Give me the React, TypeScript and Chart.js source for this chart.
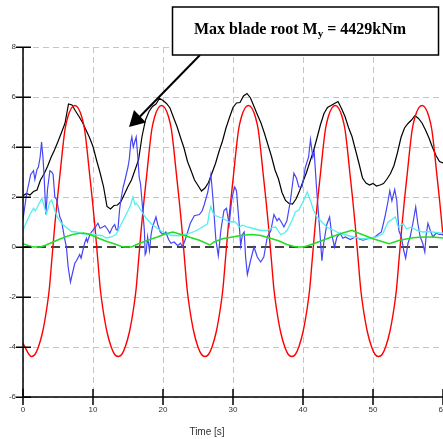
import React, { useEffect, useRef } from 'react';
import { Chart, registerables } from 'chart.js';

Chart.register(...registerables);

const xTicks = [0, 10, 20, 30, 40, 50, 60];
const yTicks = [-6, -4, -2, 0, 2, 4, 6, 8];
const titleMain = 'Max blade root M';
const titleSub = 'y';
const titleTail = ' = 4429kNm';
const xTitle = 'Time [s]';

// Red series (smooth oscillation)
const redT = [0, 1.2, 1.7, 2.2, 2.8, 3.4, 3.75, 4.15, 4.55, 4.9, 5.3, 5.65, 6.0, 6.4, 6.9, 7.4, 7.9, 8.4, 8.8, 9.15, 9.5, 9.9, 10.25, 10.65, 11.05, 11.4, 12.0, 12.6, 13.1, 13.6,
  14.1, 14.6, 15.2, 15.8, 16.15, 16.55, 16.95, 17.3, 17.7, 18.05, 18.4, 18.8, 19.3, 19.8, 20.3, 20.8, 21.2, 21.55, 21.9, 22.3, 22.65, 23.05, 23.45, 23.8, 24.4, 25.0, 25.5, 26.0,
  26.5, 27.0, 27.6, 28.2, 28.55, 28.95, 29.35, 29.7, 30.1, 30.45, 30.8, 31.2, 31.7, 32.2, 32.7, 33.2, 33.6, 33.95, 34.3, 34.7, 35.05, 35.45, 35.85, 36.2, 36.8, 37.4, 37.9, 38.4,
  38.9, 39.4, 40.0, 40.6, 40.95, 41.35, 41.75, 42.1, 42.5, 42.85, 43.2, 43.6, 44.1, 44.6, 45.1, 45.6, 46.0, 46.35, 46.7, 47.1, 47.45, 47.85, 48.25, 48.6, 49.2, 49.8, 50.3, 50.8,
  51.3, 51.8, 52.4, 53.0, 53.35, 53.75, 54.15, 54.5, 54.9, 55.25, 55.6, 56.0, 56.5, 57.0, 57.5, 58.0, 58.4, 58.75, 59.1, 59.5, 59.85, 60.0];
const redV = [-3.85, -4.38, -4.3, -4.0, -3.4, -2.45, -1.7, -0.4, 0.9, 1.9, 2.95, 3.9, 4.7, 5.2, 5.55, 5.66, 5.55, 5.2, 4.7, 3.9, 2.95, 1.9, 0.9, -0.4, -1.7, -2.45, -3.4, -4.0, -4.3, -4.38,
  -4.3, -4.0, -3.4, -2.45, -1.7, -0.4, 0.9, 1.9, 2.95, 3.9, 4.7, 5.2, 5.55, 5.66, 5.55, 5.2, 4.7, 3.9, 2.95, 1.9, 0.9, -0.4, -1.7, -2.45, -3.4, -4.0, -4.3, -4.38,
  -4.3, -4.0, -3.4, -2.45, -1.7, -0.4, 0.9, 1.9, 2.95, 3.9, 4.7, 5.2, 5.55, 5.66, 5.55, 5.2, 4.7, 3.9, 2.95, 1.9, 0.9, -0.4, -1.7, -2.45, -3.4, -4.0, -4.3, -4.38,
  -4.3, -4.0, -3.4, -2.45, -1.7, -0.4, 0.9, 1.9, 2.95, 3.9, 4.7, 5.2, 5.55, 5.66, 5.55, 5.2, 4.7, 3.9, 2.95, 1.9, 0.9, -0.4, -1.7, -2.45, -3.4, -4.0, -4.3, -4.38,
  -4.3, -4.0, -3.4, -2.45, -1.7, -0.4, 0.9, 1.9, 2.95, 3.9, 4.7, 5.2, 5.55, 5.66, 5.55, 5.2, 4.7, 3.9, 2.95, 1.9, 0.9, 0.45];

// Black series
const blackT = [0, 0.5, 1, 1.5, 2, 2.5, 3, 3.5, 4, 4.5, 5, 5.5, 6, 6.5, 7, 7.5, 8, 8.5, 9, 9.5, 10, 10.5, 11, 11.5, 12, 12.5, 13, 13.5, 14, 14.5, 15, 15.5, 16, 16.5, 17, 17.5, 18, 18.5, 19, 19.5,
  20, 20.5, 21, 21.5, 22, 22.5, 23, 23.5, 24, 24.5, 25, 25.5, 26, 26.5, 27, 27.5, 28, 28.5, 29, 29.5, 30, 30.5, 31, 31.5, 32, 32.5, 33, 33.5, 34, 34.5, 35, 35.5, 36, 36.5, 37, 37.5, 38, 38.5, 39, 39.5,
  40, 40.5, 41, 41.5, 42, 42.5, 43, 43.5, 44, 44.5, 45, 45.5, 46, 46.5, 47, 47.5, 48, 48.5, 49, 49.5, 50, 50.5, 51, 51.5, 52, 52.5, 53, 53.5, 54, 54.5, 55, 55.5, 56, 56.5, 57, 57.5, 58, 58.5, 59, 59.5, 60];
const blackV = [2.05, 2.14, 2.08, 2.22, 2.28, 2.68, 2.92, 3.22, 3.58, 3.88, 4.22, 4.58, 4.95, 5.72, 5.68, 5.44, 5.22, 4.98, 4.68, 4.38, 4.02, 3.48, 2.98, 2.42, 1.62, 1.52, 1.66, 1.68, 1.82, 2.12,
  2.42, 2.68, 3.08, 3.48, 4.42, 5.08, 5.42, 5.62, 5.72, 5.95, 5.86, 5.74, 5.56, 5.18, 4.82, 4.38, 3.96, 3.42, 3.06, 2.68, 2.46, 2.24, 2.36, 2.58, 2.96, 3.34, 3.82, 4.24, 4.76, 5.18,
  5.58, 5.76, 5.78, 6.04, 6.14, 5.96, 5.62, 5.28, 4.96, 4.54, 4.08, 3.62, 3.08, 2.72, 2.18, 1.86, 1.74, 1.72, 1.92, 2.24, 2.62, 2.98, 3.42, 3.84, 4.36, 4.9, 5.34, 5.58, 5.66, 5.74,
  5.82, 5.54, 5.22, 4.78, 4.42, 3.88, 3.34, 2.76, 2.56, 2.48, 2.54, 2.44, 2.48, 2.54, 2.72, 2.94, 3.26, 3.78, 4.38, 4.76, 4.94, 5.08, 5.26, 5.14, 4.96, 4.68, 4.36, 3.98, 3.66, 3.42, 3.36];

// Blue series
const blueT = [0, 0.5, 0.8, 1.1, 1.5, 1.7, 2.0, 2.2, 2.45, 2.65, 2.85, 3.0, 3.27, 3.5, 3.84, 4.1, 4.3, 4.55, 4.8, 5.0, 5.26, 5.5, 5.97, 6.2, 6.45, 6.78, 7.15, 7.4, 7.64, 8.1, 8.3, 8.58, 8.8, 9.06, 9.2, 9.5, 9.77, 10.24, 10.7, 11.0,
  11.4, 11.7, 12.1, 12.4, 12.8, 13.1, 13.3, 13.55, 13.8, 14.0, 14.27, 14.5, 14.75, 15.0, 15.2, 15.4, 15.55, 15.75, 15.9, 16.17, 16.4, 16.6, 16.8, 17.1, 17.35, 17.45, 17.6, 17.8, 18.07, 18.3,
  18.5, 19.0, 19.25, 19.6, 19.96, 20.4, 20.8, 21.15, 21.6, 22.1, 22.5, 22.8, 23.3, 23.9, 24.47, 25.2, 25.6, 25.9, 26.4, 26.84, 27.0, 27.2, 27.55, 27.9, 28.26, 28.7, 29.06, 29.45, 29.8, 30.05,
  30.25, 30.5, 30.87, 31.1, 31.35, 31.6, 31.8, 32.05, 32.3, 32.5, 33.0, 33.47, 33.95, 34.4, 34.9, 35.4, 35.85, 36.3, 36.56, 37.0, 37.27, 37.7, 38.2, 38.7, 39.07, 39.4, 39.87, 40.35, 40.8, 41.07,
  41.4, 41.6, 41.9, 42.25, 42.5, 42.7, 42.96, 43.4, 43.8, 44.1, 44.5, 44.85, 45.3, 45.7, 46.05, 46.75, 47.47, 48.2, 48.6, 49.5, 50.26, 50.7, 51.2, 51.7, 52.16, 52.4, 52.7, 53.1, 53.4, 53.7,
  54.05, 54.4, 54.67, 55.0, 55.3, 55.7, 56.1, 56.4, 56.75, 57.1, 57.4, 57.6, 57.85, 58.2, 58.56, 59.0, 59.5, 60.0];
const blueV = [1.1, 2.1, 2.5, 2.9, 3.05, 2.7, 3.1, 3.2, 3.6, 4.2, 3.6, 2.9, 1.3, 2.3, 3.05, 3.0, 2.9, 2.0, 1.9, 1.6, 1.2, 1.05, 0.3, 0.0, -0.8, -1.4, -0.95, -0.65, -0.55, -0.3, -0.45, -0.1, 0.15, 0.35, 0.2, 0.45, 0.6, 0.75, 0.95, 0.75,
  0.8, 0.85, 0.7, 0.55, 0.8, 0.9, 0.7, 0.67, 1.5, 1.9, 2.35, 2.6, 2.9, 3.2, 3.55, 4.2, 4.4, 4.0, 4.15, 4.4, 3.6, 2.8, 2.5, 1.5, 0.6, -0.3, -0.2, 0.4, -0.15, 0.5,
  0.8, 1.2, 0.9, 0.6, 0.5, 0.6, 0.3, 0.15, 0.2, 0.05, 0.15, 0.0, 0.4, 0.95, 1.25, 1.3, 1.45, 1.7, 2.2, 2.9, 2.4, 1.7, 0.3, -0.35, 0.65, 1.45, 1.55, 0.9, 1.85, 2.2,
  2.4, 2.25, 0.95, 0.05, 0.5, 0.6, -0.4, -1.1, -0.8, -0.55, 0.0, -0.4, -0.6, -0.4, 0.4, 0.65, 1.3, 1.05, 1.15, 0.95, 0.8, 1.05, 1.85, 2.95, 2.75, 2.4, 2.4, 3.2, 3.6, 4.3,
  3.6, 3.8, 2.5, 1.2, 0.25, -0.55, 0.15, 0.9, 1.2, 0.5, 0.0, 0.4, 0.55, 0.35, 0.4, 0.3, 0.4, 0.3, 0.27, 0.35, 0.4, 0.5, 0.6, 1.2, 1.85, 2.25, 1.85, 2.3, 1.85, 0.65,
  0.4, -0.15, -0.45, 0.15, 0.4, 0.95, 1.6, 0.95, 0.4, 0.15, -0.2, 0.5, 0.95, 0.65, 0.4, 0.55, 0.5, 0.5];

// Cyan series
const cyanT = [0, 0.5, 1.0, 1.5, 1.75, 2.2, 2.7, 3.1, 3.37, 3.8, 4.1, 4.55, 5.0, 5.5, 6.2, 6.9, 7.6, 8.6, 9.5, 10.5, 11.3, 11.9, 12.6, 13.3, 13.6, 14.27, 15.0, 15.4, 15.7, 16.0, 16.2, 16.6, 17.1, 17.6, 18.3, 19.25, 20.2, 21.15, 22.3, 23.5,
  24.5, 25.65, 26.36, 26.6, 26.84, 27.1, 27.3, 28.0, 28.7, 29.45, 30.16, 30.5, 30.87, 31.34, 32.05, 33.0, 33.95, 34.9, 35.6, 36.1, 36.8, 37.3, 37.74, 38.45, 38.9, 39.4, 40.1, 40.6, 41.07, 41.5,
  42.0, 42.7, 43.4, 44.4, 45.3, 46.3, 47.2, 48.2, 49.1, 50.5, 51.4, 52.16, 52.6, 52.9, 53.2, 53.6, 54.3, 54.77, 55.5, 56.2, 57.1, 58.1, 59.0, 60.0];
const cyanV = [0.67, 1.0, 1.3, 1.55, 1.45, 1.68, 1.95, 1.55, 1.33, 1.78, 1.88, 1.45, 1.15, 0.95, 0.78, 0.62, 0.6, 0.52, 0.53, 0.48, 0.45, 0.36, 0.4, 0.5, 0.67, 1.05, 1.45, 1.7, 2.0, 1.7, 1.75, 1.58, 1.35, 1.15, 0.93, 0.73, 0.56, 0.47, 0.45, 0.53,
  0.62, 0.8, 0.93, 1.35, 1.62, 1.4, 1.28, 1.2, 1.12, 1.0, 1.02, 0.95, 0.8, 0.87, 0.8, 0.73, 0.66, 0.66, 0.78, 0.8, 0.5, 0.55, 0.67, 1.07, 1.4, 1.47, 1.87, 2.2, 1.85, 1.47,
  1.2, 1.0, 0.8, 0.67, 0.53, 0.47, 0.4, 0.34, 0.33, 0.4, 0.53, 1.0, 1.08, 1.15, 1.2, 0.8, 0.93, 0.73, 0.8, 0.67, 0.6, 0.62, 0.58, 0.55];

// Green series
const greenT = [0, 0.8, 1.5, 2.5, 3.3, 4.3, 5.3, 6.2, 7.1, 7.9, 8.6, 9.2, 9.8, 10.9, 12.0, 13.1, 14.0, 14.5, 15.5, 16.4, 17.8, 19.2, 20.4, 21.4, 22.6, 23.7, 25.2, 26.7, 27.3, 28.5,
  29.9, 31.3, 32.7, 34.0, 35.1, 36.5, 37.7, 38.6, 39.2, 40.1, 41.5, 43.4, 45.3, 47.0, 47.9, 50.0, 52.3, 53.8, 55.7, 57.1, 58.6, 60.0];
const greenV = [0.13, 0.05, 0.0, 0.0, 0.08, 0.2, 0.32, 0.42, 0.5, 0.54, 0.56, 0.53, 0.47, 0.34, 0.22, 0.12, 0.03, 0.0, 0.0, 0.12, 0.27, 0.4, 0.53, 0.6, 0.5, 0.4, 0.27, 0.08, 0.2, 0.33,
  0.4, 0.47, 0.5, 0.46, 0.37, 0.25, 0.1, 0.03, 0.0, 0.0, 0.13, 0.33, 0.53, 0.67, 0.56, 0.33, 0.13, 0.27, 0.37, 0.4, 0.4, 0.36];

function zip(t: number[], v: number[]) {
  return t.map((x, i) => ({ x, y: v[i] }));
}

const overlay = {
  id: 'overlay',
  beforeDatasetsDraw(chart: any) {
    const { ctx, chartArea, scales } = chart;
    const y0 = Math.round(scales.y.getPixelForValue(0));
    ctx.save();
    ctx.strokeStyle = '#444444';
    ctx.lineWidth = 2;
    ctx.setLineDash([9, 5]);
    ctx.beginPath();
    ctx.moveTo(chartArea.left, y0);
    ctx.lineTo(chartArea.right, y0);
    ctx.stroke();
    ctx.restore();
  },
  afterDatasetsDraw(chart: any) {
    const { ctx, chartArea, scales } = chart;
    const xs = scales.x;
    const ys = scales.y;
    const L = chartArea.left;
    const B = ys.getPixelForValue(-6);
    const T = ys.getPixelForValue(8);
    ctx.save();
    // axes
    ctx.strokeStyle = '#000';
    ctx.lineWidth = 1.5;
    ctx.setLineDash([]);
    ctx.beginPath();
    ctx.moveTo(L, T);
    ctx.lineTo(L, B);
    ctx.moveTo(L, B);
    ctx.lineTo(chartArea.right + 2, B);
    ctx.stroke();
    // ticks
    ctx.lineWidth = 1.5;
    ctx.beginPath();
    yTicks.forEach((v) => {
      const py = Math.round(ys.getPixelForValue(v)) + 0.25;
      ctx.moveTo(L - 7, py);
      ctx.lineTo(L + 8, py);
    });
    xTicks.forEach((v) => {
      const px = Math.round(xs.getPixelForValue(v));
      ctx.moveTo(px, B - 8);
      ctx.lineTo(px, B + 8);
    });
    ctx.stroke();
    // tick labels
    ctx.fillStyle = '#333';
    ctx.font = '8px "Liberation Sans", Arial, sans-serif';
    ctx.textAlign = 'right';
    ctx.textBaseline = 'middle';
    yTicks.forEach((v) => {
      ctx.fillText(String(v), L - 7, ys.getPixelForValue(v));
    });
    ctx.textAlign = 'center';
    xTicks.forEach((v) => {
      ctx.fillText(String(v), xs.getPixelForValue(v), B + 12.5);
    });
    // axis title
    ctx.font = '10px "Liberation Sans", Arial, sans-serif';
    ctx.fillText(xTitle, 207, 432);

    // arrow
    ctx.strokeStyle = '#000';
    ctx.fillStyle = '#000';
    ctx.lineWidth = 2;
    ctx.beginPath();
    ctx.moveTo(200, 55);
    ctx.lineTo(140, 116.5);
    ctx.stroke();
    ctx.beginPath();
    ctx.moveTo(129, 127);
    ctx.lineTo(134, 110);
    ctx.lineTo(146, 122.5);
    ctx.closePath();
    ctx.fill();

    // title box
    ctx.fillStyle = '#fff';
    ctx.fillRect(172.5, 7, 266, 48);
    ctx.lineWidth = 1.5;
    ctx.strokeRect(172.5, 7, 266, 48);
    ctx.fillStyle = '#000';
    ctx.textAlign = 'left';
    ctx.textBaseline = 'alphabetic';
    const mainFont = 'bold 16px "Liberation Serif", "Times New Roman", serif';
    const subFont = 'bold 11px "Liberation Serif", "Times New Roman", serif';
    ctx.font = mainFont;
    const w1 = ctx.measureText(titleMain).width;
    const w3 = ctx.measureText(titleTail).width;
    ctx.font = subFont;
    const w2 = ctx.measureText(titleSub).width;
    const total = w1 + w2 + w3;
    let x = 300 - total / 2;
    const base = 33.5;
    ctx.font = mainFont;
    ctx.fillText(titleMain, x, base);
    x += w1;
    ctx.font = subFont;
    ctx.fillText(titleSub, x, base + 3.5);
    x += w2;
    ctx.font = mainFont;
    ctx.fillText(titleTail, x, base);
    ctx.restore();
  },
};

export default function App() {
  const ref = useRef<HTMLCanvasElement>(null);
  useEffect(() => {
    if (!ref.current) return;
    const line = (label: string, t: number[], v: number[], color: string, width: number, smooth: boolean) => ({
      label,
      data: zip(t, v),
      borderColor: color,
      backgroundColor: color,
      borderWidth: width,
      pointRadius: 0,
      fill: false,
      tension: 0,
      cubicInterpolationMode: smooth ? 'monotone' : 'default',
    });
    const chart = new Chart(ref.current, {
      type: 'line',
      data: {
        datasets: [
          line('green', greenT, greenV, '#22dd22', 1.5, false),
          line('cyan', cyanT, cyanV, '#55eeee', 1.3, false),
          line('blue', blueT, blueV, '#4646f5', 1.2, false),
          line('red', redT, redV, '#ff0000', 1.4, true),
          line('black', blackT, blackV, '#000000', 1.2, false),
        ] as any,
      },
      options: {
        animation: false,
        responsive: false,
        devicePixelRatio: 1,
        layout: { padding: { left: 23, top: 47, right: 0, bottom: 42 } },
        plugins: { legend: { display: false }, tooltip: { enabled: false }, title: { display: false } },
        scales: {
          x: {
            type: 'linear',
            min: 0,
            max: 60,
            ticks: { display: false, stepSize: 10 },
            grid: { color: '#c4c4c4', lineWidth: 1, drawTicks: false },
            border: { display: false, dash: [6, 4] },
          },
          y: {
            type: 'linear',
            min: -6,
            max: 8,
            ticks: { display: false, stepSize: 2 },
            grid: {
              color: (c: any) => (c.tick && c.tick.value === 0 ? 'rgba(0,0,0,0)' : '#c4c4c4'),
              lineWidth: 1,
              drawTicks: false,
            },
            border: { display: false, dash: [6, 4] },
          },
        },
      } as any,
      plugins: [overlay],
    });
    return () => chart.destroy();
  }, []);
  return (
    <div style={{ position: 'absolute', left: 0, top: 0, width: 443, height: 439, background: '#fff' }}>
      <canvas ref={ref} width={443} height={439} style={{ display: 'block' }} />
    </div>
  );
}
